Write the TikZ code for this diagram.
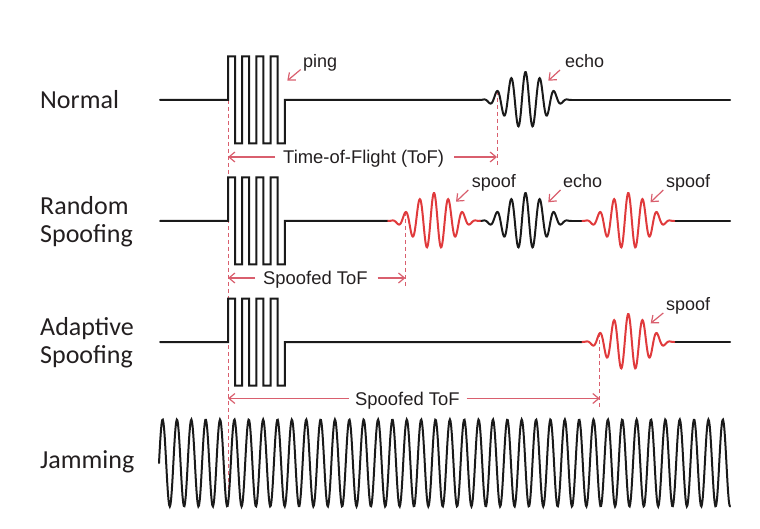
\documentclass[tikz,border=0pt]{standalone}
\usepackage{fontspec}
\setmainfont{Liberation Sans}
\newfontfamily\rowfont{Carlito}
\usetikzlibrary{arrows.meta}
\definecolor{sig}{HTML}{1A1A1A}
\definecolor{spoofred}{HTML}{E03A3C}
\definecolor{annocol}{HTML}{D95F6E}
\definecolor{txt}{HTML}{231F20}
% packet: baseline, centre, from, to
\newcommand\sigpacket[4]{plot[domain=#3:#4,samples=180] (\x,{#1-28*pow(cos(1.9565*(\x-#2)),2)*cos(25.1748*(\x-#2))})}
\newcommand\pulsetrain[1]{ -- (228,#1) \foreach \k in {0,1,2,3}{ -- ({228+14.2*\k},{#1-43.5}) -- ({235+14.2*\k},{#1-43.5}) -- ({235+14.2*\k},{#1+43.5}) -- ({242.2+14.2*\k},{#1+43.5}) } -- (284.8,#1)}
\begin{document}
\begin{tikzpicture}[x=1pt,y=-1pt,
  wave/.style={draw=sig,line width=2pt,line cap=round},
  redwave/.style={draw=spoofred,line width=2pt,line cap=round},
  guide/.style={draw=annocol,line width=1pt,dash pattern=on 4pt off 3pt},
  measure/.style={draw=annocol,line width=1.2pt,-{Straight Barb[length=6pt,width=10pt]}},
  rowlabel/.style={font=\rowfont\fontsize{26}{28}\selectfont,text=txt,anchor=base west,inner sep=0pt},
  annotext/.style={font=\fontsize{18}{21}\selectfont,text=txt,anchor=base west,inner sep=0pt},
  spantext/.style={font=\fontsize{18.4}{22}\selectfont,text=txt,anchor=west,inner sep=0pt,text height=13.2pt,text depth=0pt}
]
\useasboundingbox (0,0) rectangle (760,529);

% row labels
\node[rowlabel] (lnormal) at (40,108.4) {Normal};
\node[rowlabel] (lrandomA) at (40,215) {Random};
\node[rowlabel] (lrandomB) at (40,243) {Spoofing};
\node[rowlabel] (ladaptA) at (40,335) {Adaptive};
\node[rowlabel] (ladaptB) at (40,363) {Spoofing};
\node[rowlabel] (ljam) at (40,468) {Jamming};

% guides (dashed)
\coordinate (g0a) at (228,100);
\coordinate (g0b) at (228,506);
\draw[guide] (g0a) -- (g0b);
\coordinate (g1a) at (497,91);
\coordinate (g1b) at (497,167);
\draw[guide] (g1a) -- (g1b);
\coordinate (g2a) at (405.4,212);
\coordinate (g2b) at (405.4,287);
\draw[guide] (g2a) -- (g2b);
\coordinate (g3a) at (599.7,333);
\coordinate (g3b) at (599.7,407);
\draw[guide] (g3a) -- (g3b);

% Row 1: Normal
\draw[wave] (160,100) \pulsetrain{100} -- (479.5,100);
\draw[wave] \sigpacket{100}{525.5}{479.5}{571.5};
\draw[wave] (571.5,100) -- (730,100);

% Row 2: Random spoofing
\draw[wave] (160,221) \pulsetrain{221} -- (388,221);
\draw[wave] \sigpacket{221}{525.5}{479.5}{571.5};
\draw[wave] (571.5,221) -- (582.3,221);
\draw[wave] (674.3,221) -- (730,221);
\draw[redwave] \sigpacket{221}{434}{388}{480};
\draw[redwave] \sigpacket{221}{628.3}{582.3}{674.3};

% Row 3: Adaptive spoofing
\draw[wave] (160,342) \pulsetrain{342} -- (582.3,342);
\draw[wave] (674.3,342) -- (730,342);
\draw[redwave] \sigpacket{342}{628.3}{582.3}{674.3};

% Row 4: Jamming
\draw[wave] plot[domain=159:730,samples=900] (\x,{463-43.5*sin(25.0609*(\x-159))});

% span annotations
\node[spantext] (tof) at (283,157) {Time-of-Flight (ToF)};
\coordinate (m1l) at (228,157);
\coordinate (m1r) at (497,157);
\draw[measure] ([xshift=-8pt]tof.west) -- (m1l);
\draw[measure] ([xshift=10pt]tof.east) -- (m1r);

\node[spantext] (stofA) at (263,278) {Spoofed ToF};
\coordinate (m2l) at (228,278);
\coordinate (m2r) at (405.4,278);
\draw[measure] ([xshift=-8pt]stofA.west) -- (m2l);
\draw[measure] ([xshift=10pt]stofA.east) -- (m2r);

\node[spantext] (stofB) at (355,398.5) {Spoofed ToF};
\coordinate (m3l) at (228,398.5);
\coordinate (m3r) at (599.7,398.5);
\draw[measure] ([xshift=-6pt]stofB.west) -- (m3l);
\draw[measure] ([xshift=7pt]stofB.east) -- (m3r);

% pointer labels
\node[annotext] (ping) at (303,68) {ping};
\coordinate (pingT) at (300.7,69.5);
\coordinate (pingH) at (287.3,80.7);
\draw[measure] (pingT) -- (pingH);

\node[annotext] (echoA) at (565,68) {echo};
\coordinate (echoAT) at (560,70);
\coordinate (echoAH) at (548.3,80.7);
\draw[measure] (echoAT) -- (echoAH);

\node[annotext] (spoofA) at (471.7,187.3) {spoof};
\coordinate (spoofAT) at (468.3,190);
\coordinate (spoofAH) at (456,201.7);
\draw[measure] (spoofAT) -- (spoofAH);

\node[annotext] (echoB) at (563,187.3) {echo};
\coordinate (echoBT) at (560.5,190);
\coordinate (echoBH) at (548.3,202.3);
\draw[measure] (echoBT) -- (echoBH);

\node[annotext] (spoofB) at (666,187.3) {spoof};
\coordinate (spoofBT) at (663.3,190);
\coordinate (spoofBH) at (650.5,202.3);
\draw[measure] (spoofBT) -- (spoofBH);

\node[annotext] (spoofC) at (666,310) {spoof};
\coordinate (spoofCT) at (663.3,313);
\coordinate (spoofCH) at (650.7,323.3);
\draw[measure] (spoofCT) -- (spoofCH);
\end{tikzpicture}
\end{document}
